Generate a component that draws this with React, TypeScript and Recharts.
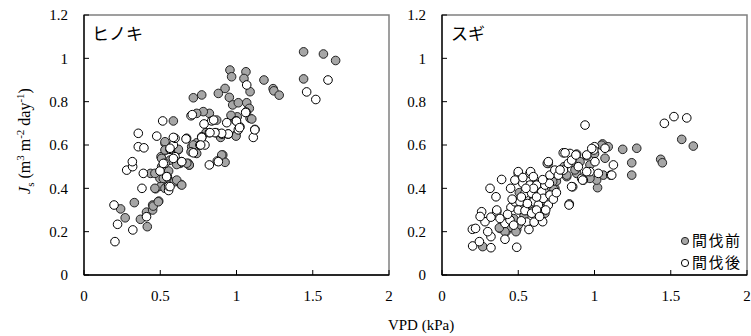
import React from 'react';
import { ScatterChart, Scatter, XAxis, YAxis, ReferenceLine, ReferenceArea } from 'recharts';

const xTicks = [0, 0.5, 1, 1.5, 2];
const yTicks = [0, 0.2, 0.4, 0.6, 0.8, 1, 1.2];
const seriesNames = ['間伐前', '間伐後'];
const panelTitles = ['ヒノキ', 'スギ'];
const xTitle = 'VPD (kPa)';

const hinokiBefore: number[][] = [
  [0.24, 0.305], [0.27, 0.264], [0.33, 0.334], [0.37, 0.257], [0.41, 0.29], [0.415, 0.223], [0.45, 0.3], [0.45, 0.323],
  [0.49, 0.341], [0.454, 0.318], [0.47, 0.398], [0.505, 0.41], [0.54, 0.405], [0.592, 0.43], [0.636, 0.418], [0.498, 0.446],
  [0.555, 0.48], [0.509, 0.5], [0.437, 0.469], [0.505, 0.546], [0.564, 0.53], [0.63, 0.515], [0.684, 0.515], [0.69, 0.507],
  [0.618, 0.577], [0.531, 0.608], [0.537, 0.577], [0.706, 0.592], [0.739, 0.561], [0.739, 0.61], [0.91, 0.554], [0.925, 0.52],
  [0.995, 0.646], [0.957, 0.946], [0.968, 0.915], [1.062, 0.938], [1.049, 0.907], [1.089, 0.846], [1.18, 0.9], [1.24, 0.86],
  [1.245, 0.85], [1.28, 0.83], [0.925, 0.861], [0.881, 0.838], [0.772, 0.831], [0.717, 0.818], [0.953, 0.82], [0.975, 0.785],
  [1.012, 0.795], [1.067, 0.795], [1.084, 0.769], [1.005, 0.73], [1.089, 0.723], [1.1, 0.72], [0.964, 0.737], [1.023, 0.684],
  [0.997, 0.641], [0.896, 0.635], [0.8, 0.657], [0.87, 0.715], [0.822, 0.746], [0.782, 0.754], [0.739, 0.746], [0.586, 0.711],
  [0.531, 0.615], [0.717, 0.6], [0.619, 0.58], [0.702, 0.569], [0.903, 0.554], [0.69, 0.508], [0.531, 0.577], [0.509, 0.538],
  [0.52, 0.446], [0.608, 0.438], [0.641, 0.415], [0.465, 0.4], [0.531, 0.4], [0.465, 0.469], [0.487, 0.338], [0.608, 0.51],
  [0.674, 0.516], [1.44, 1.03], [1.57, 1.02], [1.65, 0.99], [1.44, 0.905],
];

const hinokiAfter: number[][] = [
  [0.197, 0.323], [0.22, 0.234], [0.203, 0.154], [0.32, 0.208], [0.41, 0.269], [0.38, 0.4], [0.555, 0.39], [0.555, 0.41],
  [0.546, 0.454], [0.498, 0.48], [0.389, 0.469], [0.28, 0.484], [0.319, 0.5], [0.317, 0.523], [0.531, 0.515], [0.597, 0.546],
  [0.64, 0.523], [0.564, 0.58], [0.586, 0.6], [0.597, 0.631], [0.717, 0.564], [0.76, 0.6], [0.793, 0.6], [0.673, 0.631],
  [0.822, 0.508], [0.874, 0.526], [0.772, 0.638], [0.356, 0.654], [0.477, 0.641], [0.356, 0.592], [0.393, 0.587], [0.822, 0.657],
  [0.866, 0.657], [0.905, 0.65], [0.945, 0.65], [1.067, 0.877], [1.062, 0.752], [0.997, 0.712], [0.936, 0.703], [1.121, 0.672],
  [1.11, 0.635], [1.012, 0.67], [0.946, 0.651], [0.903, 0.654], [0.859, 0.657], [0.826, 0.657], [0.837, 0.711], [0.787, 0.697],
  [0.702, 0.735], [0.516, 0.711], [0.586, 0.635], [0.669, 0.628], [0.772, 0.635], [0.765, 0.6], [0.881, 0.523], [0.564, 0.585],
  [0.52, 0.515], [0.542, 0.454], [0.564, 0.408], [0.586, 0.538], [0.641, 0.523], [1.0, 0.71], [1.02, 0.68], [1.12, 0.67],
  [1.06, 0.75], [1.6, 0.9], [1.46, 0.845], [1.52, 0.81], [0.85, 0.715], [0.71, 0.74],
];

const sugiBefore: number[][] = [
  [0.267, 0.131], [0.38, 0.215], [0.42, 0.2], [0.446, 0.22], [0.49, 0.21], [0.5, 0.231], [0.507, 0.38], [0.53, 0.338],
  [0.537, 0.27], [0.625, 0.377], [0.675, 0.285], [0.715, 0.43], [0.72, 0.4], [0.74, 0.4], [0.75, 0.433], [0.697, 0.515],
  [0.818, 0.454], [0.883, 0.558], [0.905, 0.523], [0.883, 0.469], [1.053, 0.605], [1.09, 0.592], [1.185, 0.58], [1.277, 0.585],
  [1.244, 0.518], [1.244, 0.461], [1.069, 0.539], [1.02, 0.403], [1.058, 0.461], [1.014, 0.438], [0.97, 0.508], [0.97, 0.446],
  [0.872, 0.485], [0.69, 0.515], [0.818, 0.461], [0.726, 0.431], [0.734, 0.395], [1.572, 0.626], [1.648, 0.595], [1.434, 0.534],
  [1.445, 0.518], [1.047, 0.599], [0.413, 0.2], [0.376, 0.218], [0.485, 0.2], [0.6, 0.36], [0.58, 0.33], [0.65, 0.34],
  [0.55, 0.3], [0.47, 0.26], [0.62, 0.42], [0.8, 0.5], [0.85, 0.52], [0.95, 0.55], [1.0, 0.56],
];

const sugiAfter: number[][] = [
  [0.201, 0.134], [0.245, 0.154], [0.321, 0.126], [0.199, 0.211], [0.22, 0.215], [0.321, 0.177], [0.413, 0.165], [0.413, 0.238],
  [0.49, 0.128], [0.26, 0.292], [0.282, 0.246], [0.321, 0.267], [0.359, 0.292], [0.38, 0.261], [0.315, 0.4], [0.354, 0.361],
  [0.359, 0.3], [0.391, 0.441], [0.452, 0.312], [0.446, 0.254], [0.5, 0.469], [0.478, 0.438], [0.577, 0.469], [0.53, 0.423],
  [0.544, 0.377], [0.478, 0.338], [0.511, 0.338], [0.5, 0.3], [0.544, 0.297], [0.555, 0.244], [0.588, 0.285], [0.577, 0.415],
  [0.62, 0.415], [0.588, 0.377], [0.6, 0.338], [0.632, 0.323], [0.62, 0.3], [0.604, 0.244], [0.66, 0.246], [0.64, 0.27],
  [0.654, 0.384], [0.675, 0.415], [0.697, 0.323], [0.664, 0.354], [0.708, 0.461], [0.708, 0.369], [0.74, 0.484], [0.763, 0.461],
  [0.796, 0.484], [0.828, 0.515], [0.835, 0.328], [0.857, 0.407], [0.795, 0.564], [0.839, 0.561], [0.85, 0.53], [0.894, 0.5],
  [0.916, 0.446], [0.938, 0.692], [1.0, 0.592], [0.995, 0.577], [1.069, 0.585], [1.124, 0.508], [1.106, 0.461], [1.003, 0.523],
  [0.97, 0.477], [0.927, 0.438], [0.949, 0.554], [0.878, 0.554], [0.807, 0.564], [0.85, 0.408], [0.833, 0.323], [0.697, 0.523],
  [0.774, 0.485], [0.704, 0.423], [0.5, 0.477], [0.581, 0.477], [0.599, 0.454], [0.982, 0.584], [1.113, 0.461],
  [0.949, 0.477], [1.025, 0.469], [0.922, 0.438], [1.458, 0.7], [1.521, 0.731], [1.605, 0.725], [0.43, 0.28], [0.46, 0.35],
  [0.52, 0.36], [0.56, 0.33], [0.62, 0.36], [0.68, 0.3], [0.52, 0.25], [0.57, 0.21], [0.47, 0.23], [0.3, 0.2], [0.25, 0.27],
  [0.53, 0.45], [0.66, 0.44], [0.73, 0.35], [0.6, 0.4], [0.75, 0.38], [0.45, 0.4], [0.55, 0.4],
];

const toPoints = (arr: number[][]) => arr.map(([x, y]) => ({ x, y }));

const GREY = '#a6a6a6';
const SERIF = '"Liberation Serif", "Times New Roman", serif';
const CJK = '"Noto Sans CJK JP", sans-serif';

const GreyDot = (p: any) => (
  <circle cx={p.cx} cy={p.cy} r={4.3} fill={GREY} stroke="#222" strokeWidth={1} />
);
const OpenDot = (p: any) => (
  <circle cx={p.cx} cy={p.cy} r={4.3} fill="#fff" stroke="#000" strokeWidth={1} />
);

// Custom ticks: label outside, short tick mark drawn inward (as path)
const XTick = (p: any) => {
  const { x, y, payload } = p;
  // y here is the label anchor; axis line sits 15px above
  const ay = y - 15;
  return (
    <g>
      <path d={`M${x},${ay}L${x},${ay - 5}`} stroke="#000" strokeWidth={1} fill="none" />
      <text x={x} y={y} dy="0.71em" textAnchor="middle" fill="#000" fontSize={15} fontFamily={SERIF}>
        {payload.value}
      </text>
    </g>
  );
};
const YTick = (p: any) => {
  const { x, y, payload } = p;
  const ax = x + 16;
  return (
    <g>
      <path d={`M${ax},${y}L${ax + 5},${y}`} stroke="#000" strokeWidth={1} fill="none" />
      <text x={x} y={y} dy="0.355em" textAnchor="end" fill="#000" fontSize={15} fontFamily={SERIF}>
        {payload.value}
      </text>
    </g>
  );
};

function Panel({ width, before, after }: { width: number; before: number[][]; after: number[][] }) {
  return (
    <ScatterChart
      width={width}
      height={336}
      margin={{ top: 15, right: width - 389, bottom: 31, left: 44 }}
    >
      <XAxis
        type="number"
        dataKey="x"
        domain={[0, 2]}
        ticks={xTicks}
        interval={0}
        height={30}
        tickSize={0}
        tickMargin={15}
        tick={<XTick />}
        tickLine={false}
        axisLine={false}
        allowDataOverflow
      />
      <YAxis
        type="number"
        dataKey="y"
        domain={[0, 1.2]}
        ticks={yTicks}
        interval={0}
        width={40}
        tickSize={0}
        tickMargin={16}
        tick={<YTick />}
        tickLine={false}
        axisLine={false}
        allowDataOverflow
      />
      <ReferenceArea x1={0} x2={2} y1={0} y2={1.2} fill="none" stroke="#808080" strokeWidth={1.5} ifOverflow="visible" />
      <ReferenceLine x={0} stroke="#000" strokeWidth={1.3} ifOverflow="visible" />
      <ReferenceLine y={0} stroke="#000" strokeWidth={1.3} ifOverflow="visible" />
      <Scatter name={seriesNames[0]} data={toPoints(before)} shape={GreyDot} isAnimationActive={false} />
      <Scatter name={seriesNames[1]} data={toPoints(after)} shape={OpenDot} isAnimationActive={false} />
    </ScatterChart>
  );
}

export default function App() {
  return (
    <div style={{ position: 'absolute', left: 0, top: 0, width: 751, height: 336, background: '#fff' }}>
      <div style={{ position: 'absolute', left: 0, top: 0 }}>
        <Panel width={400} before={hinokiBefore} after={hinokiAfter} />
      </div>
      <div style={{ position: 'absolute', left: 358, top: 0 }}>
        <Panel width={393} before={sugiBefore} after={sugiAfter} />
      </div>
      <svg width={751} height={336} style={{ position: 'absolute', left: 0, top: 0, pointerEvents: 'none' }}>
        <text x={92} y={40} fontFamily={CJK} fontSize={17} fill="#000">{panelTitles[0]}</text>
        <text x={451} y={40} fontFamily={CJK} fontSize={17} fill="#000">{panelTitles[1]}</text>
        <text
          transform="translate(30,141) rotate(-90)"
          textAnchor="middle"
          fontFamily={SERIF}
          fontSize={16}
          fill="#000"
        >
          <tspan fontStyle="italic">J</tspan>
          <tspan fontSize={11} dy={4}>s</tspan>
          <tspan dy={-4}> (m</tspan>
          <tspan fontSize={11} dy={-6}>3</tspan>
          <tspan dy={6}> m</tspan>
          <tspan fontSize={11} dy={-6}>-2</tspan>
          <tspan dy={6}> day</tspan>
          <tspan fontSize={11} dy={-6}>-1</tspan>
          <tspan dy={6}>)</tspan>
        </text>
        <text x={421} y={330} textAnchor="middle" fontFamily={SERIF} fontSize={15} fill="#000">{xTitle}</text>
        <circle cx={685} cy={241} r={3.6} fill={GREY} stroke="#222" strokeWidth={1} />
        <text x={692} y={246} fontFamily={CJK} fontSize={15} letterSpacing={1.5} fill="#000">{seriesNames[0]}</text>
        <circle cx={685} cy={263} r={3.6} fill="#fff" stroke="#000" strokeWidth={1} />
        <text x={692} y={268} fontFamily={CJK} fontSize={15} letterSpacing={1.5} fill="#000">{seriesNames[1]}</text>
      </svg>
    </div>
  );
}
